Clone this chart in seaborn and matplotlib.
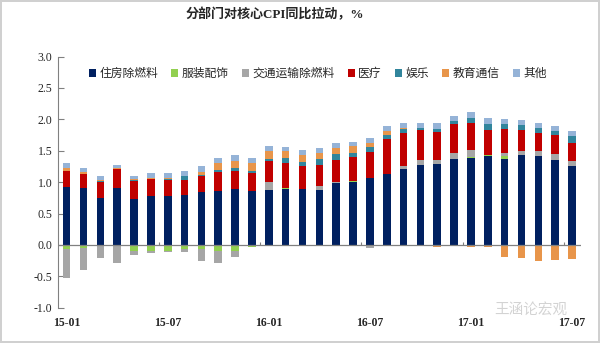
import numpy as np
import pandas as pd
import matplotlib
matplotlib.use("Agg")
import matplotlib.pyplot as plt
import seaborn as sns

months = ["15-01", "15-02", "15-03", "15-04", "15-05", "15-06", "15-07", "15-08",
          "15-09", "15-10", "15-11", "15-12", "16-01", "16-02", "16-03", "16-04",
          "16-05", "16-06", "16-07", "16-08", "16-09", "16-10", "16-11", "16-12",
          "17-01", "17-02", "17-03", "17-04", "17-05", "17-06", "17-07"]
tick_labels = ["15-01", "15-07", "16-01", "16-07", "17-01", "17-07"]

housing = [0.92, 0.90, 0.75, 0.90, 0.73, 0.78, 0.78, 0.79, 0.84, 0.86, 0.89, 0.86,
           0.87, 0.89, 0.89, 0.88, 0.99, 1.00, 1.06, 1.13, 1.21, 1.27, 1.29, 1.37,
           1.39, 1.42, 1.37, 1.43, 1.42, 1.35, 1.26]
apparel = [-0.06, -0.05, -0.02, -0.02, -0.09, -0.09, -0.09, -0.06, -0.06, -0.09, -0.09, -0.03,
           -0.02, 0.01, 0.00, 0.00, 0.00, 0.02, 0.00, 0.00, 0.00, -0.02, 0.00, 0.00,
           0.01, 0.01, 0.05, 0.00, -0.02, 0.00, 0.00]
transport = [-0.47, -0.35, -0.19, -0.27, -0.07, -0.04, -0.03, -0.05, -0.19, -0.20, -0.10, 0.00,
             0.14, 0.00, -0.02, 0.06, 0.02, 0.00, -0.05, -0.02, 0.04, 0.08, 0.06, 0.09,
             0.11, 0.01, 0.04, 0.07, 0.07, 0.10, 0.08]
medical = [0.26, 0.23, 0.25, 0.31, 0.29, 0.27, 0.26, 0.25, 0.25, 0.30, 0.29, 0.28,
           0.32, 0.40, 0.36, 0.33, 0.34, 0.38, 0.42, 0.55, 0.54, 0.48, 0.45, 0.46,
           0.44, 0.39, 0.38, 0.33, 0.30, 0.30, 0.29]
recreation = [0.00, 0.00, 0.02, 0.00, 0.02, 0.00, 0.01, 0.05, 0.02, 0.03, 0.04, 0.03,
              0.04, 0.08, 0.07, 0.10, 0.10, 0.07, 0.08, 0.07, 0.06, 0.03, 0.04, 0.05,
              0.07, 0.10, 0.09, 0.08, 0.07, 0.06, 0.10]
education = [0.04, 0.03, 0.02, 0.02, 0.01, 0.01, 0.01, 0.01, 0.05, 0.11, 0.11, 0.13,
             0.13, 0.11, 0.11, 0.10, 0.10, 0.10, 0.07, 0.07, 0.02, 0.01, -0.03, -0.02,
             -0.03, -0.03, -0.19, -0.21, -0.23, -0.24, -0.22]
other = [0.09, 0.07, 0.06, 0.05, 0.05, 0.08, 0.09, 0.07, 0.09, 0.08, 0.11, 0.09,
         0.08, 0.07, 0.08, 0.08, 0.08, 0.07, 0.07, 0.08, 0.08, 0.08, 0.10, 0.09,
         0.09, 0.09, 0.08, 0.08, 0.08, 0.09, 0.09]

series_names = ["住房除燃料", "服装配饰", "交通运输除燃料", "医疗", "娱乐", "教育通信", "其他"]
series_values = [housing, apparel, transport, medical, recreation, education, other]
colors = ["#002060", "#92D050", "#A6A6A6", "#C00000", "#31859C", "#E8954A", "#95B3D7"]

sns.set_theme(style="white")
plt.rcParams["font.family"] = ["Liberation Serif", "Noto Sans CJK SC", "DejaVu Sans"]

fig = plt.figure(figsize=(6.0, 3.43), dpi=100)
ax = fig.add_axes([0.097, 0.103, 0.8705, 0.732])

pos_base = np.zeros(len(months))
neg_base = np.zeros(len(months))
for name, vals, c in zip(series_names, series_values, colors):
    v = np.array(vals, dtype=float)
    bottom = np.where(v >= 0, pos_base, neg_base)
    df = pd.DataFrame({"month": months, "value": v})
    sns.barplot(data=df, x="month", y="value", order=months, color=c, saturation=1,
                width=0.45, errorbar=None, bottom=bottom, label=name, ax=ax,
                linewidth=0)
    pos_base = pos_base + np.where(v > 0, v, 0)
    neg_base = neg_base + np.where(v < 0, v, 0)

ax.set_xlim(-0.5, len(months) - 0.5)
ax.set_ylim(-1.0, 3.0)
ax.set_yticks(np.arange(-1.0, 3.01, 0.5))
ax.set_yticklabels([f"{t:.1f}" for t in np.arange(-1.0, 3.01, 0.5)], fontsize=8.5,
                   family="Liberation Serif")
ax.set_xticks([months.index(t) for t in tick_labels])
ax.set_xticklabels(tick_labels, fontsize=8.5, family="Liberation Serif", fontweight="bold")
ax.tick_params(axis="x", length=0, pad=7)
ax.tick_params(axis="y", direction="in", length=4, width=0.8, color="#808080", pad=4,
               left=True)
ax.set_xlabel("")
ax.set_ylabel("")

for s in ["top", "right", "bottom"]:
    ax.spines[s].set_visible(False)
ax.spines["left"].set_color("#808080")
ax.spines["left"].set_linewidth(0.8)
ax.axhline(0, color="#808080", linewidth=0.9, zorder=3)
sep = np.arange(5.5, len(months) - 1, 6)
ax.vlines(sep, 0, 0.05, color="#808080", linewidth=0.8, zorder=3)

leg = ax.legend(loc="upper center", bbox_to_anchor=(0.497, 1.0), ncol=7, frameon=False,
                handlelength=0.6, handleheight=0.6, handletextpad=0.3, columnspacing=1.1,
                prop={"family": ["Noto Sans CJK SC"], "size": 8.5})

fig.text(0.4575, 0.958, "分部门对核心CPI同比拉动，%", ha="center", va="center",
         fontsize=9.4, fontweight="bold",
         family=["Liberation Serif", "Noto Sans CJK SC"])
fig.text(0.885, 0.098, "王涵论宏观", ha="center", va="center", fontsize=10.5,
         color="#c8c8c8", family=["Noto Sans CJK SC"], alpha=0.8)

fig.patch.set_edgecolor("#d0d0d0")
fig.patch.set_linewidth(1.5)
fig.savefig("out.png", dpi=100, edgecolor=fig.get_edgecolor())
